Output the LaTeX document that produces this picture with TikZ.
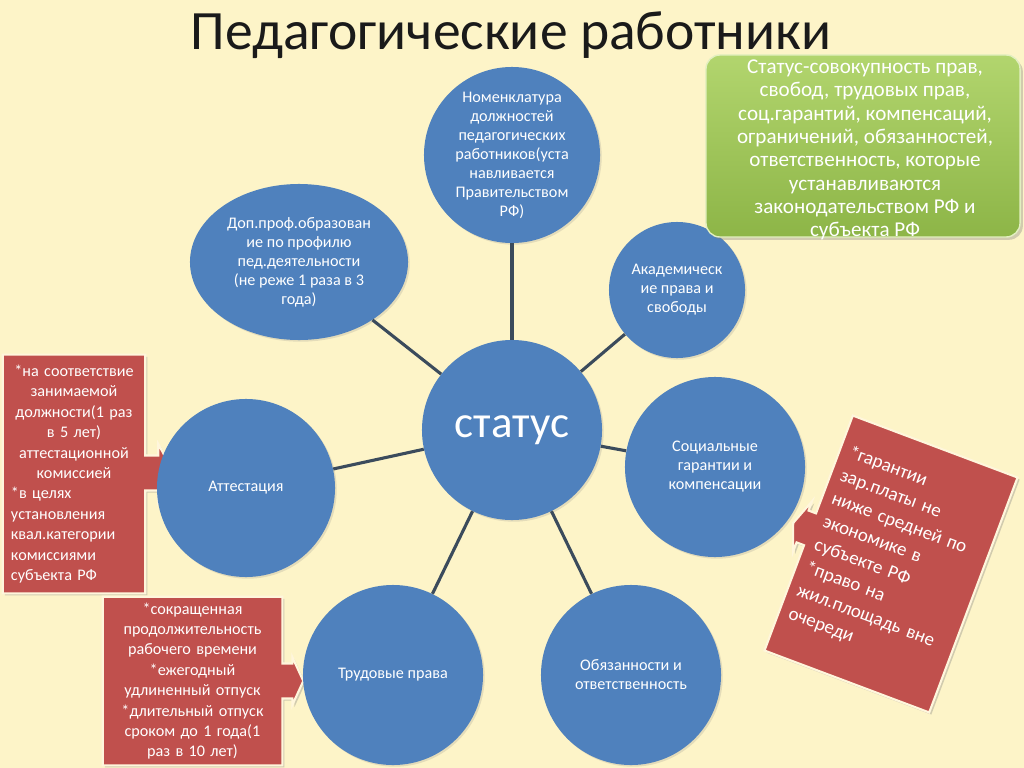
\documentclass[tikz,border=0pt]{standalone}
\usepackage{fontspec}
\setmainfont{Carlito}
\usetikzlibrary{shapes.geometric,calc,backgrounds,shadows}
\definecolor{bgcream}{HTML}{FDF4C8}
\definecolor{circblue}{HTML}{4F81BD}
\definecolor{linkgray}{HTML}{3B4B5C}
\definecolor{notered}{HTML}{C0504D}
\definecolor{noteedge}{HTML}{FFF6DC}
\definecolor{greentop}{HTML}{B2D56E}
\definecolor{greenbottom}{HTML}{8DB547}
\definecolor{greenedge}{HTML}{E2EFC0}
\definecolor{titleblack}{HTML}{1A1A1A}
\begin{document}
\begin{tikzpicture}[
    x=0.025cm, y=-0.025cm,
    circlestyle/.style={circle, fill=circblue, text=white, align=center, inner sep=0pt, font=\fontsize{11.5}{13.5}\selectfont, drop shadow={opacity=0.2, shadow xshift=1.2pt, shadow yshift=-1.2pt}},
    linkstyle/.style={draw=linkgray, line width=2.2pt},
    greenstyle/.style={rounded corners=0.35cm, top color=greentop, bottom color=greenbottom, draw=greenedge, line width=1pt, inner sep=0pt, drop shadow={opacity=0.35, shadow xshift=2pt, shadow yshift=-2pt}},
    greentext/.style={text=white, align=center, inner sep=0pt, font=\fontsize{15}{16.6}\selectfont},
    notestyle/.style={text=white, inner sep=0pt, font=\fontsize{11.5}{14.5}\selectfont},
    calloutstyle/.style={fill=notered, draw=noteedge, line width=1.5pt, drop shadow={opacity=0.35, shadow xshift=1.5pt, shadow yshift=-1.5pt}}
]
    \useasboundingbox (0,0) rectangle (1024,768);
    \begin{scope}[on background layer]
        \fill[bgcream] (0,0) rectangle (1024,768);
    \end{scope}

    \node[font=\fontsize{39.5}{46}\selectfont, text=titleblack] (title) at (511,35) {Педагогические работники};

    \node[circlestyle, minimum size=4.5cm, font=\fontsize{32}{38}\selectfont] (status) at (512,430) {статус};
    \node[circlestyle, minimum size=4.4cm] (nomen) at (512,155) {Номенклатура\\должностей\\педагогических\\работников(уста\\навливается\\Правительством\\РФ)};
    \node[circlestyle, ellipse, minimum width=5.45cm, minimum height=3.9cm] (dpo) at (299,262) {Доп.проф.образован\\ие по профилю\\пед.деятельности\\(не реже 1 раза в 3\\года)};
    \node[circlestyle, minimum size=3.4cm] (acad) at (677,290) {Академическ\\ие права и\\свободы};
    \node[circlestyle, minimum size=4.5cm] (social) at (715,467) {Социальные\\гарантии и\\компенсации};
    \node[circlestyle, minimum size=4.45cm] (attest) at (246,488) {Аттестация};
    \node[circlestyle, minimum size=4.5cm] (labor) at (393,675) {Трудовые права};
    \node[circlestyle, minimum size=4.5cm] (duty) at (631,675) {Обязанности и\\ответственность};

    \foreach \t in {nomen,dpo,acad,social,attest,labor,duty}
        \draw[linkstyle] (status) -- (\t);

    \node[greenstyle, minimum width=7.85cm, minimum height=4.55cm] (greenbox) at (863,146) {};
    \node[greentext] (statusdef) at (865,150) {Статус-совокупность прав,\\свобод, трудовых прав,\\соц.гарантий, компенсаций,\\ограничений, обязанностей,\\ответственность, которые\\устанавливаются\\законодательством РФ и\\субъекта РФ};

    \node[notestyle, minimum width=3.55cm, minimum height=5.95cm, text width=3.15cm] (attnote) at (74,474) {\centering *на соответствие\\занимаемой\\должности(1 раз\\в 5 лет)\\аттестационной\\комиссией\par\raggedright *в целях\\установления\\квал.категории\\комиссиями\\субъекта РФ\par};
    \node[notestyle, minimum width=4.475cm, minimum height=4.2cm, text width=4.3cm, align=center] (labornote) at (192.5,681) {*сокращенная\\продолжительность\\рабочего времени\\{}*ежегодный\\удлиненный отпуск\\{}*длительный отпуск\\сроком до 1 года(1\\раз в 10 лет)};

    \begin{scope}[on background layer]
        \fill[calloutstyle] (attnote.north west) -- (attnote.north east) -- ($(attnote.east)+(0,-18.5)$) -- ($(attnote.east)+(13,-18.5)$) -- ($(attnote.east)+(13,-30)$) -- ($(attnote.east)+(28,-2)$) -- ($(attnote.east)+(13,28)$) -- ($(attnote.east)+(13,16.5)$) -- ($(attnote.east)+(0,16.5)$) -- (attnote.south east) -- (attnote.south west) -- cycle;
        \fill[calloutstyle] (labornote.north west) -- (labornote.north east) -- ($(labornote.east)+(0,-17.5)$) -- ($(labornote.east)+(10,-17.5)$) -- ($(labornote.east)+(10,-24)$) -- ($(labornote.east)+(21,0)$) -- ($(labornote.east)+(10,24)$) -- ($(labornote.east)+(10,17.5)$) -- ($(labornote.east)+(0,17.5)$) -- (labornote.south east) -- (labornote.south west) -- cycle;
    \end{scope}

    \begin{scope}[shift={(891,564)}, rotate=-20.6]
        \node[notestyle, transform shape, minimum width=4.4cm, minimum height=6.275cm, text width=4.0cm, align=left, font=\fontsize{13.5}{17.5}\selectfont] (socnote) at (2,-4) {*гарантии\\зар.платы не\\ниже средней по\\экономике в\\субъекте РФ\\{}*право на\\жил.площадь вне\\очереди};
        \begin{scope}[on background layer]
            \fill[calloutstyle] (-88,-125.5) -- (88,-125.5) -- (88,125.5) -- (-88,125.5) -- (-88,13) -- (-96,13) -- (-96,23) -- (-106,-4) -- (-96,-31) -- (-96,-21) -- (-88,-21) -- cycle;
        \end{scope}
    \end{scope}
\end{tikzpicture}
\end{document}
